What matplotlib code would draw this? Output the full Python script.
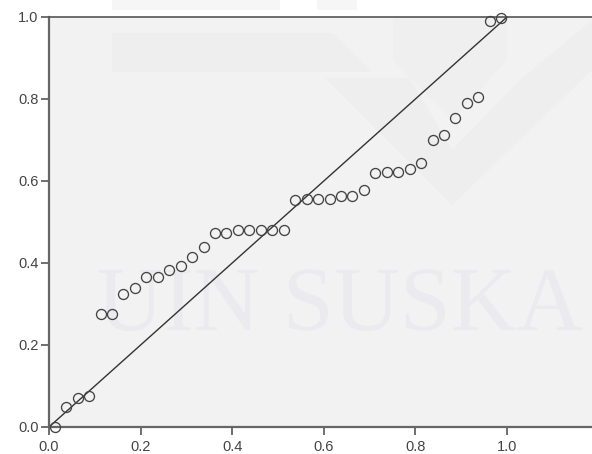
import matplotlib
matplotlib.use("Agg")
import matplotlib.pyplot as plt
from matplotlib.patches import Polygon

# Observed cumulative probability (x) vs expected cumulative probability (y)
observed = [0.0125, 0.0375, 0.0625, 0.0875, 0.1125, 0.1375, 0.1625, 0.1875,
            0.2125, 0.2375, 0.2625, 0.2875, 0.3125, 0.3375, 0.3625, 0.3875,
            0.4125, 0.4375, 0.4625, 0.4875, 0.5125, 0.5375, 0.5625, 0.5875,
            0.6125, 0.6375, 0.6625, 0.6875, 0.7125, 0.7375, 0.7625, 0.7875,
            0.8125, 0.8375, 0.8625, 0.8875, 0.9125, 0.9375, 0.9625, 0.9875]
expected = [0.000, 0.050, 0.071, 0.076, 0.275, 0.275, 0.324, 0.338,
            0.367, 0.367, 0.383, 0.393, 0.414, 0.439, 0.472, 0.472,
            0.480, 0.480, 0.480, 0.480, 0.480, 0.554, 0.556, 0.556,
            0.556, 0.564, 0.564, 0.578, 0.619, 0.623, 0.623, 0.629,
            0.643, 0.700, 0.712, 0.753, 0.790, 0.806, 0.991, 0.997]
ref_line = [0.0, 1.0]
xticks = [0.0, 0.2, 0.4, 0.6, 0.8, 1.0]
yticks = [0.0, 0.2, 0.4, 0.6, 0.8, 1.0]

W, H = 592, 454
fig = plt.figure(figsize=(W / 100, H / 100), dpi=100)
fig.patch.set_facecolor("white")

ax = fig.add_axes([49 / W, 27 / H, (W - 49) / W, 410 / H])
ax.set_facecolor("#f2f2f2")
ax.set_xlim(0, (W - 49) / 458)
ax.set_ylim(0, 1.0)


def px(pts):
    return [(x / W, 1 - y / H) for x, y in pts]


def ax_poly(pts, color):
    ax.add_patch(Polygon(px(pts), closed=True, facecolor=color, edgecolor="none",
                         transform=fig.transFigure, zorder=0.5))


def fig_poly(pts, color):
    fig.patches.append(Polygon(px(pts), closed=True, facecolor=color,
                               edgecolor="none", transform=fig.transFigure))


# faint watermark logo shapes (decoration)
wm = "#eeeeee"
ax_poly([(112, 33), (333, 33), (372, 72), (112, 72)], wm)
ax_poly([(325, 78), (410, 78), (452, 150), (520, 80), (592, 20), (592, 70),
         (452, 205)], wm)
ax_poly([(393, 17), (507, 17), (507, 60), (452, 120), (393, 60)], "#efefef")
fig_poly([(112, 0), (280, 0), (280, 10), (112, 10)], "#f6f6f6")
fig_poly([(317, 0), (357, 0), (357, 10), (317, 10)], "#f6f6f6")

# watermark text (behind the data)
ax.text(97 / W, 1 - 330 / H, "UIN SUSKA R", family="Liberation Serif",
        fontsize=66, color="#ebebef", ha="left", va="baseline", zorder=0.6,
        transform=fig.transFigure, clip_on=True)

ax.plot(ref_line, ref_line, color="#333333", lw=1.0, zorder=2, clip_on=False)
ax.plot(observed, expected, linestyle="none", marker="o", markersize=7.2,
        markerfacecolor="none", markeredgecolor="#444444", markeredgewidth=0.95,
        zorder=3, clip_on=False)

ax.spines["right"].set_visible(False)
ax.spines["left"].set_color("#666666")
ax.spines["left"].set_linewidth(1.6)
ax.spines["bottom"].set_color("#666666")
ax.spines["bottom"].set_linewidth(1.6)
ax.spines["top"].set_color("#555555")
ax.spines["top"].set_linewidth(1.2)

ax.set_xticks(xticks)
ax.set_yticks(yticks)
ax.set_xticklabels([f"{v:.1f}" for v in xticks])
ax.set_yticklabels([f"{v:.1f}" for v in yticks])
ax.tick_params(axis="both", direction="out", length=6, width=1.2, color="#555555",
               labelsize=10.5, labelcolor="#444444")
ax.tick_params(axis="y", pad=1.5)
ax.tick_params(axis="x", pad=3.5)
for lbl in ax.get_xticklabels() + ax.get_yticklabels():
    lbl.set_family("Liberation Sans")

fig.savefig("out.png", dpi=100)
